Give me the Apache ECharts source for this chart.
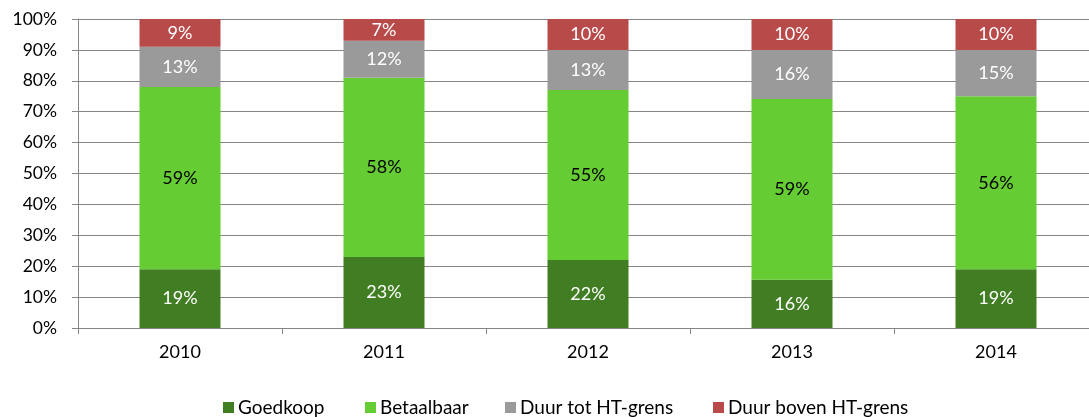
<!DOCTYPE html>
<html>
<head>
<meta charset="utf-8">
<script src="https://cdn.jsdelivr.net/npm/echarts@6/dist/echarts.min.js"></script>
<style>
  html, body { margin: 0; padding: 0; background: #fff; }
  #main { width: 1089px; height: 417px; }
</style>
</head>
<body>
<div id="main"></div>
<script>
// jaren
var years = ['2010', '2011', '2012', '2013', '2014'];
// aandelen per segment (procent)
var goedkoop = [19, 23, 22, 15.6, 19];
var betaalbaar = [59, 58, 55, 58.5, 56];
var duurTot = [13, 12, 13, 15.9, 15];
var duurBoven = [9, 7, 10, 10, 10];
var yTicks = [0, 10, 20, 30, 40, 50, 60, 70, 80, 90, 100];
var legendNames = ['Goedkoop', 'Betaalbaar', 'Duur tot HT-grens', 'Duur boven HT-grens'];
var legendLeft = [223, 365, 505, 713];

var fontName = 'Lato';

function serie(name, data, color, labelColor) {
  return {
    name: name,
    type: 'bar',
    stack: 'a',
    data: data,
    barWidth: 81,
    itemStyle: { color: color },
    label: {
      show: true,
      position: 'inside',
      color: labelColor,
      fontFamily: fontName,
      fontSize: 18,
      formatter: function (p) { return Math.round(p.value) + '%'; }
    },
    emphasis: { disabled: true }
  };
}

// 每个图例单独摆放
var legends = [];
for (var i = 0; i < legendNames.length; i++) {
  legends.push({
    left: legendLeft[i],
    top: 398,
    padding: 0,
    itemWidth: 11,
    itemHeight: 11,
    icon: 'rect',
    textStyle: { fontSize: 19, color: '#000', fontFamily: fontName, padding: [0, 0, 0, -1] },
    data: [legendNames[i]]
  });
}

var myChart = echarts.init(document.getElementById('main'));
var option = {
  animation: false,
  textStyle: { fontFamily: fontName },
  grid: { left: 78, width: 1020, top: 19, height: 309, outerBoundsMode: 'none' },
  legend: legends,
  xAxis: {
    type: 'category',
    data: years,
    axisLine: { lineStyle: { color: '#868686', width: 1 } },
    axisTick: { show: true, length: 6, lineStyle: { color: '#868686' } },
    axisLabel: { color: '#000', fontSize: 18, margin: 15 }
  },
  yAxis: {
    type: 'value',
    min: yTicks[0],
    max: yTicks[yTicks.length - 1],
    interval: 10,
    axisLine: { show: true, lineStyle: { color: '#868686', width: 1 } },
    axisTick: { show: true, length: 6, lineStyle: { color: '#868686' } },
    axisLabel: { color: '#000', fontSize: 17.5, margin: 21, formatter: '{value}%' },
    splitLine: { lineStyle: { color: '#868686', width: 1 } }
  },
  series: [
    serie('Goedkoop', goedkoop, '#417e23', '#fff'),
    serie('Betaalbaar', betaalbaar, '#66cc33', '#000'),
    serie('Duur tot HT-grens', duurTot, '#9a9a9a', '#fff'),
    serie('Duur boven HT-grens', duurBoven, '#b84a4a', '#fff')
  ]
};
myChart.setOption(option);
</script>
</body>
</html>
